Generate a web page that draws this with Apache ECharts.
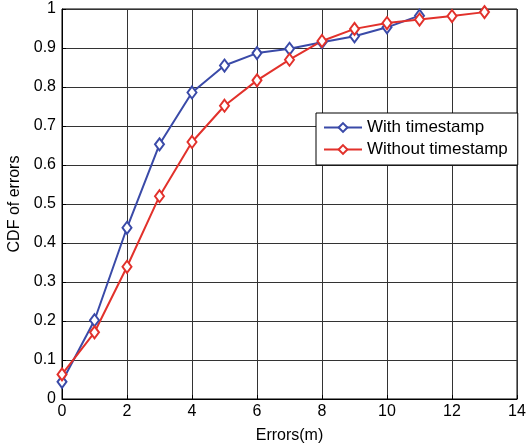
<!DOCTYPE html>
<html>
<head>
<meta charset="utf-8">
<script src="https://cdn.jsdelivr.net/npm/echarts@6/dist/echarts.min.js"></script>
<style>
  html, body { margin: 0; padding: 0; background: #fff; }
  #chart { width: 527px; height: 445px; }
</style>
</head>
<body>
<div id="chart"></div>
<script>
// Error distance (m) and cumulative fraction of errors
const withX = [0, 1, 2, 3, 4, 5, 6, 7, 8, 9, 10, 11];
const withY = [0.044, 0.202, 0.439, 0.653, 0.786, 0.855, 0.887, 0.898, 0.915, 0.930, 0.953, 0.983];
const withoutX = [0, 1, 2, 3, 4, 5, 6, 7, 8, 9, 10, 11, 12, 13];
const withoutY = [0.063, 0.171, 0.339, 0.520, 0.659, 0.752, 0.817, 0.870, 0.918, 0.949, 0.964, 0.973, 0.982, 0.992];
const seriesNames = ['With timestamp', 'Without timestamp'];
const xTicks = [0, 2, 4, 6, 8, 10, 12, 14];
const yTicks = [0, 0.1, 0.2, 0.3, 0.4, 0.5, 0.6, 0.7, 0.8, 0.9, 1];

const font = 'Liberation Sans, Arial, sans-serif';
const pair = (xs, ys) => xs.map((x, i) => [x, ys[i]]);

const chart = echarts.init(document.getElementById('chart'));
chart.setOption({
  animation: false,
  backgroundColor: '#fff',
  grid: {
    left: 62, right: 10, top: 9, bottom: 46,
    outerBoundsMode: 'none', containLabel: false,
    show: true, borderColor: '#000', borderWidth: 1
  },
  xAxis: {
    type: 'value', min: 0, max: 14, interval: 2,
    name: 'Errors(m)', nameLocation: 'middle', nameGap: 29,
    nameTextStyle: { fontFamily: font, fontSize: 16, color: '#000' },
    axisLine: { show: true, lineStyle: { color: '#000', width: 1 } },
    axisTick: { show: true, inside: true, length: 4, lineStyle: { color: '#000' } },
    axisLabel: { fontFamily: font, fontSize: 16, color: '#000', margin: 5,
      formatter: v => xTicks.includes(v) ? String(v) : '' },
    splitLine: { show: true, lineStyle: { color: '#333', width: 1 } }
  },
  yAxis: {
    type: 'value', min: 0, max: 1, interval: 0.1,
    name: 'CDF of errors', nameLocation: 'middle', nameGap: 34,
    nameTextStyle: { fontFamily: font, fontSize: 16, color: '#000' },
    axisLine: { show: true, lineStyle: { color: '#000', width: 1 } },
    axisTick: { show: true, inside: true, length: 4, lineStyle: { color: '#000' } },
    axisLabel: { fontFamily: font, fontSize: 16, color: '#000', margin: 6,
      formatter: v => {
        const t = yTicks.find(k => Math.abs(k - v) < 1e-9);
        return t === undefined ? '' : String(t);
      } },
    splitLine: { show: true, lineStyle: { color: '#333', width: 1 } }
  },
  legend: {
    left: 316, top: 113, orient: 'vertical',
    backgroundColor: '#fff', borderColor: '#000', borderWidth: 1,
    padding: [6, 10, 7, 7], itemGap: 5, itemWidth: 38, itemHeight: 11,
    textStyle: { fontFamily: font, fontSize: 17, color: '#000' },
    data: seriesNames
  },
  series: [
    {
      name: seriesNames[0], type: 'line', data: pair(withX, withY),
      symbol: 'emptyDiamond', symbolSize: [9, 12],
      lineStyle: { color: '#3a4aa8', width: 2 },
      itemStyle: { color: '#3a4aa8', borderWidth: 2 }
    },
    {
      name: seriesNames[1], type: 'line', data: pair(withoutX, withoutY),
      symbol: 'emptyDiamond', symbolSize: [9, 12],
      lineStyle: { color: '#e2312b', width: 2 },
      itemStyle: { color: '#e2312b', borderWidth: 2 }
    }
  ]
});
</script>
</body>
</html>
